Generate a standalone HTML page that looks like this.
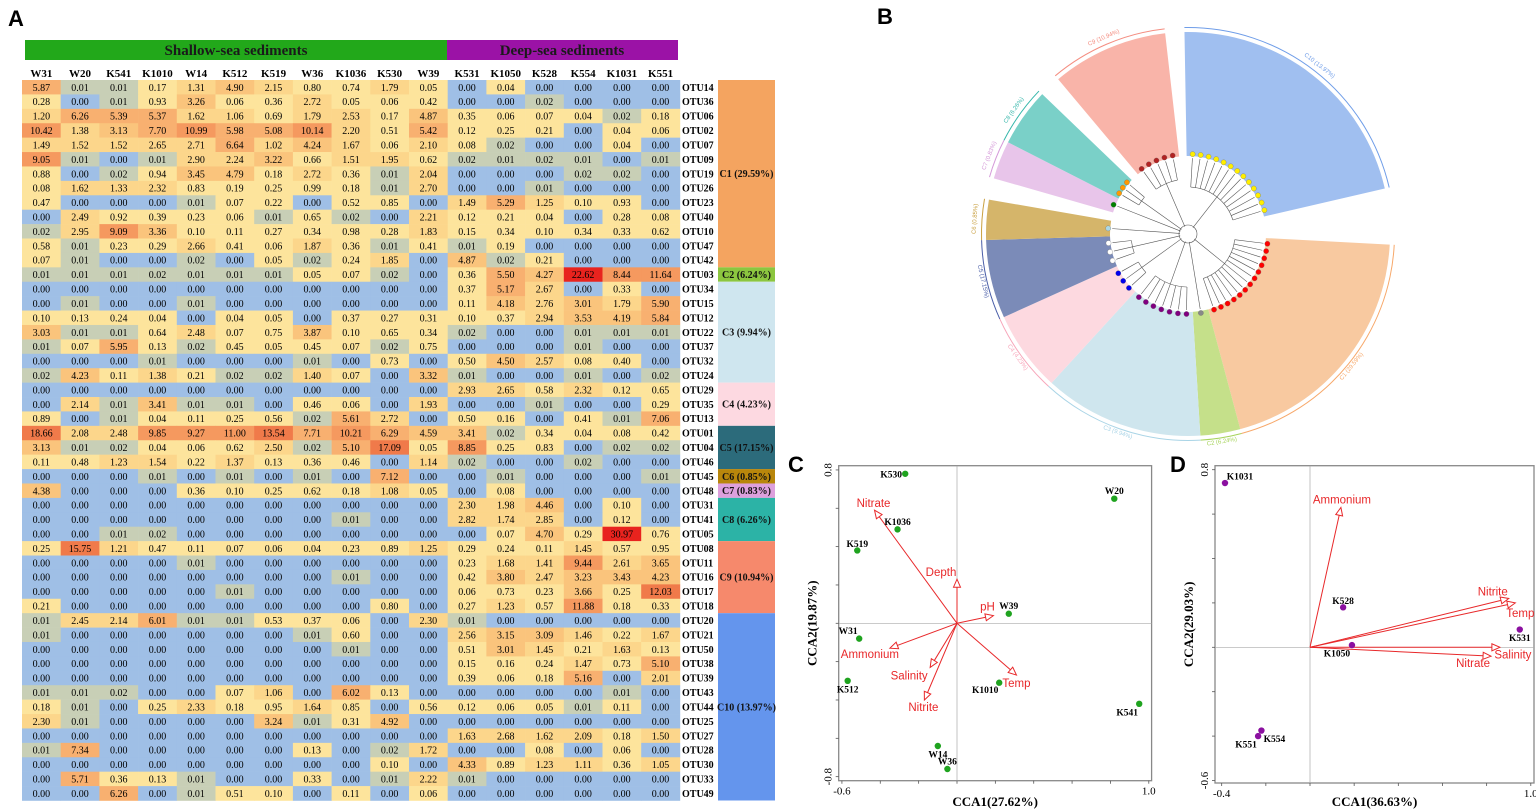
<!DOCTYPE html>
<html><head><meta charset="utf-8"><style>
html,body{margin:0;padding:0;background:#fff;}
svg{display:block;font-family:"Liberation Serif",serif;}
</style></head><body>
<svg id="fig" xmlns="http://www.w3.org/2000/svg" width="1536" height="811" viewBox="0 0 1536 811">
<rect width="1536" height="811" fill="#fff"/>
<g id="panelA"></g>
<g id="panelB"></g>
<g id="panelC"></g>
<g id="panelD"></g>
</svg>
<script>
const NS="http://www.w3.org/2000/svg";
function mk(tag,attrs,parent,txt){const e=document.createElementNS(NS,tag);for(const k in attrs)e.setAttribute(k,attrs[k]);if(txt!==undefined)e.textContent=txt;parent.appendChild(e);return e;}

// ---------- Panel A data ----------
const samples=["W31","W20","K541","K1010","W14","K512","K519","W36","K1036","K530","W39","K531","K1050","K528","K554","K1031","K551"];
const otus=["OTU14","OTU36","OTU06","OTU02","OTU07","OTU09","OTU19","OTU26","OTU23","OTU40","OTU10","OTU47","OTU42","OTU03","OTU34","OTU15","OTU12","OTU22","OTU37","OTU32","OTU24","OTU29","OTU35","OTU13","OTU01","OTU04","OTU46","OTU45","OTU48","OTU31","OTU41","OTU05","OTU08","OTU11","OTU16","OTU17","OTU18","OTU20","OTU21","OTU50","OTU38","OTU39","OTU43","OTU44","OTU25","OTU27","OTU28","OTU30","OTU33","OTU49"];
const values=[
[5.87,0.01,0.01,0.17,1.31,4.90,2.15,0.80,0.74,1.79,0.05,0.00,0.04,0.00,0.00,0.00,0.00],
[0.28,0.00,0.01,0.93,3.26,0.06,0.36,2.72,0.05,0.06,0.42,0.00,0.00,0.02,0.00,0.00,0.00],
[1.20,6.26,5.39,5.37,1.62,1.06,0.69,1.79,2.53,0.17,4.87,0.35,0.06,0.07,0.04,0.02,0.18],
[10.42,1.38,3.13,7.70,10.99,5.98,5.08,10.14,2.20,0.51,5.42,0.12,0.25,0.21,0.00,0.04,0.06],
[1.49,1.52,1.52,2.65,2.71,6.64,1.02,4.24,1.67,0.06,2.10,0.08,0.02,0.00,0.00,0.04,0.00],
[9.05,0.01,0.00,0.01,2.90,2.24,3.22,0.66,1.51,1.95,0.62,0.02,0.01,0.02,0.01,0.00,0.01],
[0.88,0.00,0.02,0.94,3.45,4.79,0.18,2.72,0.36,0.01,2.04,0.00,0.00,0.00,0.02,0.02,0.00],
[0.08,1.62,1.33,2.32,0.83,0.19,0.25,0.99,0.18,0.01,2.70,0.00,0.00,0.01,0.00,0.00,0.00],
[0.47,0.00,0.00,0.00,0.01,0.07,0.22,0.00,0.52,0.85,0.00,1.49,5.29,1.25,0.10,0.93,0.00],
[0.00,2.49,0.92,0.39,0.23,0.06,0.01,0.65,0.02,0.00,2.21,0.12,0.21,0.04,0.00,0.28,0.08],
[0.02,2.95,9.09,3.36,0.10,0.11,0.27,0.34,0.98,0.28,1.83,0.15,0.34,0.10,0.34,0.33,0.62],
[0.58,0.01,0.23,0.29,2.66,0.41,0.06,1.87,0.36,0.01,0.41,0.01,0.19,0.00,0.00,0.00,0.00],
[0.07,0.01,0.00,0.00,0.02,0.00,0.05,0.02,0.24,1.85,0.00,4.87,0.02,0.21,0.00,0.00,0.00],
[0.01,0.01,0.01,0.02,0.01,0.01,0.01,0.05,0.07,0.02,0.00,0.36,5.50,4.27,22.62,8.44,11.64],
[0.00,0.00,0.00,0.00,0.00,0.00,0.00,0.00,0.00,0.00,0.00,0.37,5.17,2.67,0.00,0.33,0.00],
[0.00,0.01,0.00,0.00,0.01,0.00,0.00,0.00,0.00,0.00,0.00,0.11,4.18,2.76,3.01,1.79,5.90],
[0.10,0.13,0.24,0.04,0.00,0.04,0.05,0.00,0.37,0.27,0.31,0.10,0.37,2.94,3.53,4.19,5.84],
[3.03,0.01,0.01,0.64,2.48,0.07,0.75,3.87,0.10,0.65,0.34,0.02,0.00,0.00,0.01,0.01,0.01],
[0.01,0.07,5.95,0.13,0.02,0.45,0.05,0.45,0.07,0.02,0.75,0.00,0.00,0.00,0.01,0.00,0.00],
[0.00,0.00,0.00,0.01,0.00,0.00,0.00,0.01,0.00,0.73,0.00,0.50,4.50,2.57,0.08,0.40,0.00],
[0.02,4.23,0.11,1.38,0.21,0.02,0.02,1.40,0.07,0.00,3.32,0.01,0.00,0.00,0.01,0.00,0.02],
[0.00,0.00,0.00,0.00,0.00,0.00,0.00,0.00,0.00,0.00,0.00,2.93,2.65,0.58,2.32,0.12,0.65],
[0.00,2.14,0.01,3.41,0.01,0.01,0.00,0.46,0.06,0.00,1.93,0.00,0.00,0.01,0.00,0.00,0.29],
[0.89,0.00,0.01,0.04,0.11,0.25,0.56,0.02,5.61,2.72,0.00,0.50,0.16,0.00,0.41,0.01,7.06],
[18.66,2.08,2.48,9.85,9.27,11.00,13.54,7.71,10.21,6.29,4.59,3.41,0.02,0.34,0.04,0.08,0.42],
[3.13,0.01,0.02,0.04,0.06,0.62,2.50,0.02,5.10,17.09,0.05,8.85,0.25,0.83,0.00,0.02,0.02],
[0.11,0.48,1.23,1.54,0.22,1.37,0.13,0.36,0.46,0.00,1.14,0.02,0.00,0.00,0.02,0.00,0.00],
[0.00,0.00,0.00,0.01,0.00,0.01,0.00,0.01,0.00,7.12,0.00,0.00,0.01,0.00,0.00,0.00,0.01],
[4.38,0.00,0.00,0.00,0.36,0.10,0.25,0.62,0.18,1.08,0.05,0.00,0.08,0.00,0.00,0.00,0.00],
[0.00,0.00,0.00,0.00,0.00,0.00,0.00,0.00,0.00,0.00,0.00,2.30,1.98,4.46,0.00,0.10,0.00],
[0.00,0.00,0.00,0.00,0.00,0.00,0.00,0.00,0.01,0.00,0.00,2.82,1.74,2.85,0.00,0.12,0.00],
[0.00,0.00,0.01,0.02,0.00,0.00,0.00,0.00,0.00,0.00,0.00,0.00,0.07,4.70,0.29,30.97,0.76],
[0.25,15.75,1.21,0.47,0.11,0.07,0.06,0.04,0.23,0.89,1.25,0.29,0.24,0.11,1.45,0.57,0.95],
[0.00,0.00,0.00,0.00,0.01,0.00,0.00,0.00,0.00,0.00,0.00,0.23,1.68,1.41,9.44,2.61,3.65],
[0.00,0.00,0.00,0.00,0.00,0.00,0.00,0.00,0.01,0.00,0.00,0.42,3.80,2.47,3.23,3.43,4.23],
[0.00,0.00,0.00,0.00,0.00,0.01,0.00,0.00,0.00,0.00,0.00,0.06,0.73,0.23,3.66,0.25,12.03],
[0.21,0.00,0.00,0.00,0.00,0.00,0.00,0.00,0.00,0.80,0.00,0.27,1.23,0.57,11.88,0.18,0.33],
[0.01,2.45,2.14,6.01,0.01,0.01,0.53,0.37,0.06,0.00,2.30,0.01,0.00,0.00,0.00,0.00,0.00],
[0.01,0.00,0.00,0.00,0.00,0.00,0.00,0.01,0.60,0.00,0.00,2.56,3.15,3.09,1.46,0.22,1.67],
[0.00,0.00,0.00,0.00,0.00,0.00,0.00,0.00,0.01,0.00,0.00,0.51,3.01,1.45,0.21,1.63,0.13],
[0.00,0.00,0.00,0.00,0.00,0.00,0.00,0.00,0.00,0.00,0.00,0.15,0.16,0.24,1.47,0.73,5.10],
[0.00,0.00,0.00,0.00,0.00,0.00,0.00,0.00,0.00,0.00,0.00,0.39,0.06,0.18,5.16,0.00,2.01],
[0.01,0.01,0.02,0.00,0.00,0.07,1.06,0.00,6.02,0.13,0.00,0.00,0.00,0.00,0.00,0.01,0.00],
[0.18,0.01,0.00,0.25,2.33,0.18,0.95,1.64,0.85,0.00,0.56,0.12,0.06,0.05,0.01,0.11,0.00],
[2.30,0.01,0.00,0.00,0.00,0.00,3.24,0.01,0.31,4.92,0.00,0.00,0.00,0.00,0.00,0.00,0.00],
[0.00,0.00,0.00,0.00,0.00,0.00,0.00,0.00,0.00,0.00,0.00,1.63,2.68,1.62,2.09,0.18,1.50],
[0.01,7.34,0.00,0.00,0.00,0.00,0.00,0.13,0.00,0.02,1.72,0.00,0.00,0.08,0.00,0.06,0.00],
[0.00,0.00,0.00,0.00,0.00,0.00,0.00,0.00,0.00,0.10,0.00,4.33,0.89,1.23,1.11,0.36,1.05],
[0.00,5.71,0.36,0.13,0.01,0.00,0.00,0.33,0.00,0.01,2.22,0.01,0.00,0.00,0.00,0.00,0.00],
[0.00,0.00,6.26,0.00,0.01,0.51,0.10,0.00,0.11,0.00,0.06,0.00,0.00,0.00,0.00,0.00,0.00]
];
const clusterLabels=["C1 (29.59%)","C2 (6.24%)","C3 (9.94%)","C4 (4.23%)","C5 (17.15%)","C6 (0.85%)","C7 (0.83%)","C8 (6.26%)","C9 (10.94%)","C10 (13.97%)"];
const clusterSizes=[13,1,7,3,3,1,1,3,5,13];
const clusterColors=["#f4a460","#8cc63f","#cfe6ef","#fdd9e1","#2c6b7b","#b8860b","#dda0dd","#2cb3a6","#f6896c","#6495ed"];

// ---------- Panel B data (tree wedges, degrees clockwise from top) ----------
const treeStart=[93,165,176.5,222.5,245.7,268.3,286,297,320,-1];
const treeEnd=[165,176.5,222.5,245.7,268.3,279.8,297,313.8,353.5,77];
const treeColors=["#f8c9a0","#c5e08a","#cfe6ee","#fdd9e0","#7b8bb8","#d5b56a","#e8c5ea","#7ad0c8","#f9b4a9","#a0bff0"];
const arcColors=["#f7a86a","#a6d35a","#a9d4e6","#f7a6ba","#4a5ea8","#c9a040","#d59ad9","#36b7ab","#f48d80","#6f9de8"];
const leafColors=["#f00","#888","#800080","#0000ee","#fff","#add8e6","#008000","#ff9900","#b22222","#ffee00"];

// ---------- Panel C data ----------
const cSites=["K530","W20","K1036","K519","W39","W31","K512","K1010","K541","W14","W36"];
const cX=[-0.27,0.82,-0.31,-0.52,0.27,-0.51,-0.57,0.22,0.95,-0.10,-0.05];
const cY=[0.78,0.65,0.49,0.38,0.05,-0.08,-0.30,-0.31,-0.42,-0.64,-0.76];
const cVars=["Nitrate","Depth","pH","Ammonium","Salinity","Nitrite","Temp"];
const cVX=[-0.43,0.00,0.19,-0.35,-0.14,-0.17,0.31];
const cVY=[0.59,0.23,0.04,-0.13,-0.23,-0.40,-0.27];
const cTicks=[-0.6,-0.4,-0.2,0,0.2,0.4,0.6,0.8,1.0];
const cYTicks=[-0.8,-0.6,-0.4,-0.2,0,0.2,0.4,0.6,0.8];

// ---------- Panel D data ----------
const dSites=["K1031","K528","K531","K1050","K554","K551"];
const dX=[-0.385,0.15,0.95,0.19,-0.22,-0.235];
const dY=[0.74,0.18,0.08,0.01,-0.375,-0.40];
const dVars=["Ammonium","Nitrite","Temp","Salinity","Nitrate"];
const dVX=[0.14,0.90,0.93,0.86,0.82];
const dVY=[0.63,0.22,0.20,0.00,-0.04];
const dTicks=[-0.4,-0.2,0,0.2,0.4,0.6,0.8,1.0];
const dYTicks=[-0.6,-0.4,-0.2,0,0.2,0.4,0.6,0.8];

// ================= Panel A =================
(function(){
const g=document.getElementById('panelA');
const x0=22,cw=38.7,y0=80,rh=14.41;
const t=mk('text',{x:8,y:26,'font-family':'Liberation Sans, sans-serif','font-size':22,'font-weight':'bold'},g,'A');


const hb1=mk('rect',{x:25,y:40,width:422,height:20,fill:'#22a81a'},g);


mk('text',{x:236,y:55,'text-anchor':'middle','font-size':15,'font-weight':'bold',fill:'#1a1a1a'},g,'Shallow-sea sediments');
const hb2=mk('rect',{x:447,y:40,width:231,height:20,fill:'#9b12a6'},g);


mk('text',{x:562,y:55,'text-anchor':'middle','font-size':15,'font-weight':'bold',fill:'#1a1a1a'},g,'Deep-sea sediments');
function col(v){
  if(v===0)return '#9fbfe6';
  if(v<0.03)return '#c8cfb6';
  if(v<1)return '#fde49c';
  if(v<3)return '#fcd68b';
  if(v<5)return '#fac47c';
  if(v<8)return '#f8b070';
  if(v<12)return '#f5995f';
  if(v<20)return '#f07a4a';
  return '#e8231e';
}
samples.forEach((s,j)=>{
  const e=mk('text',{x:x0+cw*j+cw/2,y:77,'text-anchor':'middle','font-size':11,'font-weight':'bold'},g,s);
  
  
});
values.forEach((row,i)=>{
  row.forEach((v,j)=>{
    const r=mk('rect',{x:x0+cw*j,y:y0+rh*i,width:cw+0.3,height:rh+0.3,fill:col(v)},g);
    
    
    mk('text',{x:x0+cw*j+cw/2,y:y0+rh*i+rh/2+3.6,'text-anchor':'middle','font-size':10},g,v.toFixed(2));
  });
  const l=mk('text',{x:682,y:y0+rh*i+rh/2+3.6,'font-size':10,'font-weight':'bold'},g,otus[i]);
  
  
});
let start=0;
clusterSizes.forEach((n,k)=>{
  const r=mk('rect',{x:718,y:y0+rh*start,width:57,height:rh*n,fill:clusterColors[k]},g);
  
  
  mk('text',{x:746.5,y:y0+rh*(start+n/2)+3.5,'text-anchor':'middle','font-size':10,'font-weight':'bold',fill:'#111'},g,clusterLabels[k]);
  start+=n;
});
})();

// ================= Panel B =================
(function(){
const g=document.getElementById('panelB');
const cx=1188,cy=234,ri=78,ro=202;
const t=mk('text',{x:877,y:24,'font-family':'Liberation Sans, sans-serif','font-size':22,'font-weight':'bold'},g,'B');


function pt(r,a){const rad=a*Math.PI/180;return [cx+r*Math.sin(rad),cy-r*Math.cos(rad)];}
function wedge(r1,r2,a1,a2){const p1=pt(r1,a1),p2=pt(r2,a1),p3=pt(r2,a2),p4=pt(r1,a2);const lg=(a2-a1)>180?1:0;
 return `M${p1}L${p2}A${r2},${r2} 0 ${lg} 1 ${p3}L${p4}A${r1},${r1} 0 ${lg} 0 ${p1}Z`;}
treeStart.forEach((a1,k)=>{
  const a2=treeEnd[k];
  const w=mk('path',{d:wedge(ri,ro,a1,a2),fill:treeColors[k]},g);
  
  
  mk('path',{d:wedge(ro+4,ro+5,a1,a2),fill:arcColors[k]},g);
  const am=(a1+a2)/2,p=pt(ro+10,am);
  let rot=am; if(am>90&&am<270)rot=am-180;
  mk('text',{x:p[0],y:p[1],'text-anchor':'middle','font-size':6,'font-family':'Liberation Sans, sans-serif',fill:arcColors[k],transform:`rotate(${rot} ${p[0]} ${p[1]})`},g,clusterLabels[k]);
  // dendrogram branches
  const n=clusterSizes[k];
  const sp=Math.min(6.5,(a2-a1)/(n+0.5));
  const la=a1+( (a2-a1)-sp*(n-1))/2;
  const lr=Math.max(45,60-n);
  for(let i=0;i<n;i++){
    const a=la+sp*i;
    const q1=pt(lr,a),q2=pt(ri-2,a);
    mk('line',{x1:q1[0],y1:q1[1],x2:q2[0],y2:q2[1],stroke:'#555','stroke-width':0.6},g);
    const d=pt(ri+2,a);
    const c=mk('circle',{cx:d[0],cy:d[1],r:2.6,fill:leafColors[k],stroke:'#666','stroke-width':0.3},g);
    
    
  }
  if(n>1){const b1=pt(lr,la),b2=pt(lr,la+sp*(n-1));mk('path',{d:`M${b1}A${lr},${lr} 0 0 1 ${b2}`,fill:'none',stroke:'#555','stroke-width':0.6},g);}
  const m=pt(lr,la+sp*(n-1)/2),c0=pt(8,la+sp*(n-1)/2);
  mk('line',{x1:c0[0],y1:c0[1],x2:m[0],y2:m[1],stroke:'#555','stroke-width':0.6},g);
});
mk('circle',{cx:cx,cy:cy,r:9,fill:'none',stroke:'#555','stroke-width':0.6},g);
})();

// ================= CCA helper =================
function cca(g,opt){
  const {L,R,T,B,xs,ys,x0,y0,letter,lx,ly}=opt;
  const t=mk('text',{x:lx,y:ly,'font-family':'Liberation Sans, sans-serif','font-size':22,'font-weight':'bold'},g,letter);
  
  
  const X=v=>x0+v*xs, Y=v=>y0-v*ys;
  const f=mk('rect',{x:L,y:T,width:R-L,height:B-T,fill:'none',stroke:'#888','stroke-width':1.3},g);
  
  
  mk('line',{x1:X(0),y1:T,x2:X(0),y2:B,stroke:'#aaa','stroke-width':0.7},g);
  mk('line',{x1:L,y1:Y(0),x2:R,y2:Y(0),stroke:'#aaa','stroke-width':0.7},g);
  opt.xticks.forEach(v=>mk('line',{x1:X(v),y1:B,x2:X(v),y2:B+3,stroke:'#555','stroke-width':0.8},g));
  opt.yticks.forEach(v=>mk('line',{x1:L-3,y1:Y(v),x2:L,y2:Y(v),stroke:'#555','stroke-width':0.8},g));
  const xt=opt.xticks, yt=opt.yticks;
  [[xt[0]],[xt[xt.length-1]]].forEach(a=>{const v=a[0];mk('text',{x:X(v),y:B+14,'text-anchor':'middle','font-size':11},g,v.toFixed(1));});
  [yt[0],yt[yt.length-1]].forEach(v=>{const xx=L-7,yy=Y(v);mk('text',{x:xx,y:yy,'text-anchor':'middle','font-size':11,transform:`rotate(-90 ${xx} ${yy})`},g,v.toFixed(1));});
  const xa=mk('text',{x:(L+R)/2,y:806,'text-anchor':'middle','font-size':13,'font-weight':'bold'},g,opt.xtitle);
  
  
  const yx=L-22,yy=(T+B)/2;
  const ya=mk('text',{x:yx,y:yy,'text-anchor':'middle','font-size':13,'font-weight':'bold',transform:`rotate(-90 ${yx} ${yy})`},g,opt.ytitle);
  
  
  // arrows
  opt.vars.forEach((nm,i)=>{
    const ex=X(opt.vx[i]),ey=Y(opt.vy[i]);
    const dx=ex-X(0),dy=ey-Y(0),len=Math.hypot(dx,dy),ux=dx/len,uy=dy/len;
    const bx=ex-ux*8,by=ey-uy*8;
    mk('line',{x1:X(0),y1:Y(0),x2:bx,y2:by,stroke:'#e8282a','stroke-width':1},g);
    const a=mk('polygon',{points:`${ex},${ey} ${bx-uy*3.5},${by+ux*3.5} ${bx+uy*3.5},${by-ux*3.5}`,fill:'#fff',stroke:'#e8282a','stroke-width':1},g);
    
    
    const o=opt.voff[i];
    mk('text',{x:ex+o[0],y:ey+o[1]+4,'text-anchor':'middle','font-family':'Liberation Sans, sans-serif','font-size':11.5,fill:'#e8282a'},g,nm);
  });
  opt.sites.forEach((nm,i)=>{
    const px=X(opt.px[i]),py=Y(opt.py[i]);
    const c=mk('circle',{cx:px,cy:py,r:3.2,fill:opt.pcol},g);
    
    
    const o=opt.poff[i];
    mk('text',{x:px+o[0],y:py+o[1]+3.5,'text-anchor':'middle','font-size':9.5,'font-weight':'bold'},g,nm);
  });
}
cca(document.getElementById('panelC'),{L:838.7,R:1151.6,T:465.7,B:780.7,x0:957,y0:623.3,xs:191.8,ys:191.7,letter:'C',lx:788,ly:472,
 xticks:cTicks,yticks:cYTicks,xtitle:'CCA1(27.62%)',ytitle:'CCA2(19.87%)',
 vars:cVars,vx:cVX,vy:cVY,voff:[[-1,-7],[-16,-7],[-6,-9],[-20,6],[-21,8],[-1,7],[0,8]],
 sites:cSites,px:cX,py:cY,pcol:'#1fa31f',poff:[[-14,0],[0,-8],[0,-8],[0,-7],[0,-8],[-11,-8],[0,8],[-14,7],[-12,8],[0,8],[0,-8]]});
cca(document.getElementById('panelD'),{L:1215,R:1534,T:465.7,B:783,x0:1310,y0:647.3,xs:220.8,ys:222,letter:'D',lx:1170,ly:472,
 xticks:dTicks,yticks:dYTicks,xtitle:'CCA1(36.63%)',ytitle:'CCA2(29.03%)',
 vars:dVars,vx:dVX,vy:dVY,voff:[[1,-8],[-16,-7],[5,10],[13,7],[-18,7]],
 sites:dSites,px:dX,py:dY,pcol:'#8b10a0',poff:[[15,-7],[0,-7],[0,8],[-15,8],[13,8],[-12,8]]});
</script>
</body></html>
